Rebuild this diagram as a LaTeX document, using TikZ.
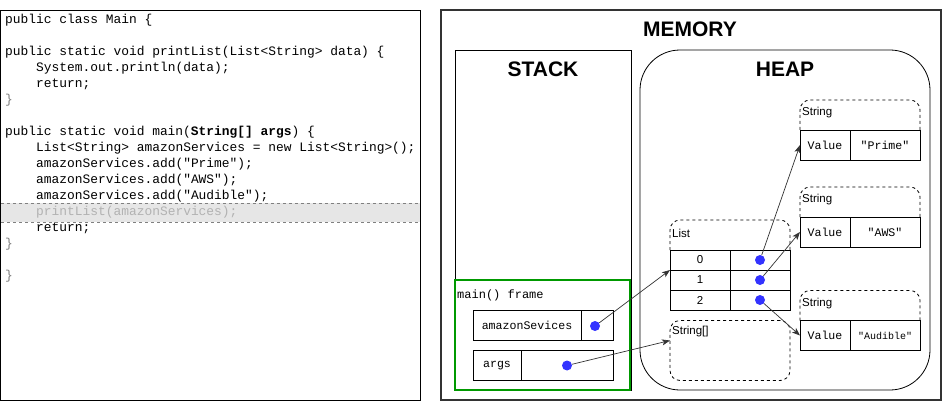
\documentclass[tikz,border=0pt]{standalone}
\usepackage{fontspec}
\setmainfont{Liberation Sans}
\newfontfamily\codefont{Liberation Mono}
\usetikzlibrary{arrows.meta,positioning}
\definecolor{linecolor}{HTML}{333333}
\definecolor{framegreen}{HTML}{009900}
\definecolor{dotblue}{HTML}{3333FF}
\definecolor{hilite}{HTML}{E6E6E6}
\tikzset{
	code/.style={
		anchor=base west,
		inner sep=0pt,
		font=\codefont\fontsize{12.9}{16}\selectfont
	},
	title/.style={
		font=\bfseries\fontsize{21}{24}\selectfont
	},
	panel/.style={
		rectangle,
		draw=black,
		line width=0.8pt,
		outer sep=0pt
	},
	cell/.style={
		rectangle,
		draw=black,
		line width=0.8pt,
		outer sep=0pt,
		inner sep=0pt,
		minimum height=30pt,
		font=\codefont\fontsize{11.6}{13}\selectfont
	},
	rowcell/.style={
		cell,
		minimum width=60pt,
		minimum height=20pt,
		font=\fontsize{11.5}{13}\selectfont
	},
	objtop/.style={
		rectangle,
		outer sep=0pt,
		minimum width=120pt,
		minimum height=30pt
	},
	objline/.style={
		draw=black,
		line width=0.8pt,
		dashed,
		rounded corners=10pt
	},
	objname/.style={
		anchor=west,
		inner sep=0pt,
		font=\fontsize{11.5}{13}\selectfont
	},
	dot/.style={
		circle,
		fill=dotblue,
		inner sep=0pt,
		minimum size=10pt
	},
	ptr/.style={
		draw=linecolor,
		line width=0.7pt,
		-{Stealth[length=8pt,width=6pt,inset=2pt]}
	},
}

\begin{document}
\begin{tikzpicture}[x=1pt,y=-1pt]
	\useasboundingbox (0,0) rectangle (942,409);

	% code panel
	\node [panel, minimum width=420pt, minimum height=390pt] (src) at (210.5,205) {};
	\node [rectangle, fill=hilite, minimum width=419pt, minimum height=19pt, outer sep=0pt] (hl) at (210.5,212.5) {};
	\draw [gray, dashed, line width=0.6pt] (hl.north west) -- (hl.north east);
	\draw [gray, dashed, line width=0.6pt] (hl.south west) -- (hl.south east);

	\node [code] (c1) at (5,23.5) {public class Main \{};
	\node [code] (c3) at (5,55.5) {public static void printList(List<String> data) \{};
	\node [code] (c4) at (36,71.5) {System.out.println(data);};
	\node [code] (c5) at (36,87.5) {return;};
	\node [code, text=gray] (c6) at (5,103.5) {\}};
	\node [code] (c8) at (5,135.5) {public static void main(\textbf{String[] args}) \{};
	\node [code] (c9) at (36,151.5) {List<String> amazonServices = new List<String>();};
	\node [code] (c10) at (36,167.5) {amazonServices.add("Prime");};
	\node [code] (c11) at (36,183.5) {amazonServices.add("AWS");};
	\node [code] (c12) at (36,199.5) {amazonServices.add("Audible");};
	\node [code, text=black!30] (c13) at (36,215.5) {printList(amazonServices);};
	\node [code] (c14) at (36,231.5) {return;};
	\node [code, text=gray] (c15) at (5,247.5) {\}};
	\node [code, text=gray] (c17) at (5,279.5) {\}};

	% memory
	\node [panel, draw=linecolor, line width=2pt, minimum width=500pt, minimum height=389pt] (mem) at (690.5,205) {};
	\node [title] (memtitle) at (690,29) {MEMORY};
	\node [panel, minimum width=176pt, minimum height=340pt] (stack) at (543,220) {};
	\node [title] (stacktitle) at (543,69) {STACK};
	\node [panel, rounded corners=40pt, minimum width=290pt, minimum height=340pt] (heap) at (785,220) {};
	\node [title] (heaptitle) at (785,69) {HEAP};

	% main() frame
	\node [panel, draw=framegreen, line width=2.5pt, minimum width=175pt, minimum height=110pt] (frame) at (542.5,335) {};
	\node [code, anchor=west, font=\codefont\fontsize{12}{14}\selectfont] (framename) at (457,295) {main() frame};
	\node [cell, minimum width=108pt] (amzkey) at (527,325.5) {amazonSevices};
	\node [cell, minimum width=32pt, right=0pt of amzkey] (amzval) {};
	\node [cell, minimum width=48pt] (argkey) at (497,365.5) {args};
	\node [cell, minimum width=92pt, right=0pt of argkey] (argval) {};
	\node [dot] (amzptr) at (595,326) {};
	\node [dot] (argptr) at (567,365.5) {};

	% heap objects
	\node [objtop] (s1) at (860,115) {};
	\draw [objline] (s1.south west) -- (s1.north west) -- (s1.north east) -- (s1.south east);
	\node [objname] at ([xshift=2pt,yshift=2pt]s1.west) {String};
	\node [cell, minimum width=50pt] (s1val) at (825,145) {Value};
	\node [cell, minimum width=70pt, right=0pt of s1val] (s1str) {"Prime"};

	\node [objtop] (s2) at (860,202) {};
	\draw [objline] (s2.south west) -- (s2.north west) -- (s2.north east) -- (s2.south east);
	\node [objname] at ([xshift=2pt,yshift=2pt]s2.west) {String};
	\node [cell, minimum width=50pt] (s2val) at (825,232) {Value};
	\node [cell, minimum width=70pt, right=0pt of s2val] (s2str) {"AWS"};

	\node [objtop] (s3) at (860,305.5) {};
	\draw [objline] (s3.south west) -- (s3.north west) -- (s3.north east) -- (s3.south east);
	\node [objname] at ([xshift=2pt,yshift=2pt]s3.west) {String};
	\node [cell, minimum width=50pt] (s3val) at (825,335.5) {Value};
	\node [cell, minimum width=70pt, right=0pt of s3val, font=\codefont\fontsize{10}{12}\selectfont] (s3str) {"Audible"};

	\node [objtop] (lst) at (730,235) {};
	\draw [objline] (lst.south west) -- (lst.north west) -- (lst.north east) -- (lst.south east);
	\node [objname] at ([xshift=2pt,yshift=2pt]lst.west) {List};
	\node [rowcell] (l0key) at (700,260) {0};
	\node [rowcell, right=0pt of l0key] (l0val) {};
	\node [rowcell, below=0pt of l0key] (l1key) {1};
	\node [rowcell, right=0pt of l1key] (l1val) {};
	\node [rowcell, below=0pt of l1key] (l2key) {2};
	\node [rowcell, right=0pt of l2key] (l2val) {};
	\node [dot] (l0ptr) at (l0val) {};
	\node [dot] (l1ptr) at (l1val) {};
	\node [dot] (l2ptr) at (l2val) {};

	\node [objtop, draw=black, line width=0.8pt, dashed, rounded corners=10pt, minimum height=60pt] (sarr) at (730,350.5) {};
	\node [objname, anchor=north west] at ([xshift=2pt,yshift=-5pt]sarr.north west) {String[]};

	% references
	\path [ptr] (amzptr) -- (l0key.south west);
	\path [ptr] (argptr) -- ([yshift=10pt]sarr.west);
	\path [ptr] (l0ptr) -- (s1val.west);
	\path [ptr] (l1ptr) -- (s2val.west);
	\path [ptr] (l2ptr) -- (s3val.west);
\end{tikzpicture}
\end{document}
